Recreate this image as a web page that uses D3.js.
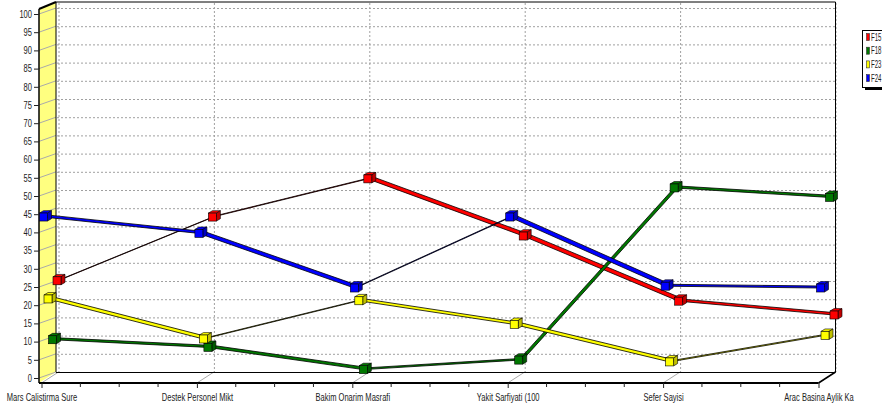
<!DOCTYPE html>
<html>
<head>
<meta charset="utf-8">
<script src="https://cdn.jsdelivr.net/npm/d3@7"></script>
<style>
  html, body { margin: 0; padding: 0; background: #fff; overflow: hidden; }
  svg { display: block; }
  text { font-family: "Liberation Sans", Arial, sans-serif; font-size: 10.5px; fill: #222; }
</style>
</head>
<body>
<svg id="chart" width="882" height="405"></svg>
<script>
// ---- data ----
const categories = ["Mars Calistirma Sure", "Destek Personel Mikt", "Bakim Onarim Masrafi",
                    "Yakit Sarfiyati (100", "Sefer Sayisi", "Arac Basina Aylik Ka"];
const seriesNames = ["F15", "F18", "F23", "F24"];
const f15 = [25, 42.5, 53, 37.3, 19.4, 15.6];
const f18 = [9.3, 7.2, 1.1, 3.7, 51, 48.4];
const f23 = [21, 10, 20.5, 14, 3.7, 11];
const f24 = [44, 39.5, 24.5, 44, 25, 24.5];
const yTickValues = d3.range(0, 101, 5);

// ---- styling / 3D layout ----
const seriesColors = ["#ff0000", "#007800", "#ffff00", "#0000ff"];
const seriesDepth = [15.5, 11, 6.5, 2];      // z offset (px) of each series ribbon
const seriesValues = [f15, f18, f23, f24];
const DX = 17, DY = -6;                      // wall depth offset
const RIB = [5.5, -1.9];                     // ribbon depth vector
const CUBE = [4, -2.4];                      // marker cube depth vector
const SLOPE = -0.4;                          // vertical shift per px of depth
const TXT_SCALE = 0.72;

const svg = d3.select("#chart");
const x = d3.scalePoint().domain(categories).range([41.5, 818.5]);
const y = d3.scaleLinear().domain([0, 100]).range([378, 14]);

const leftX = 39, floorFront = 383, floorBack = 372;
const backRight = x(categories[categories.length - 1]) + DX;

// left wall (yellow side panel)
svg.append("polygon")
  .attr("points", [[leftX, 9], [leftX + DX, 2], [leftX + DX, floorBack], [leftX, floorFront]].join(" "))
  .attr("fill", "#ffff80").attr("stroke", "none");

// back-wall grid (dashed)
const grid = svg.append("g").attr("stroke", "#a0a0a0").attr("stroke-dasharray", "2,2").attr("stroke-width", 1);
yTickValues.filter(v => v > 0).forEach(v => {
  grid.append("line").attr("x1", leftX + DX + 1).attr("x2", backRight)
    .attr("y1", y(v) + DY + 0.5).attr("y2", y(v) + DY + 0.5);
});
categories.forEach(c => {
  grid.append("line").attr("x1", x(c) + DX + 0.5).attr("x2", x(c) + DX + 0.5)
    .attr("y1", 3).attr("y2", floorBack);
});

// depth lines on the wall and the floor
const depthLines = svg.append("g").attr("stroke", "#aaa").attr("stroke-width", 1);
yTickValues.forEach(v => {
  depthLines.append("line").attr("x1", leftX).attr("y1", y(v))
    .attr("x2", leftX + DX).attr("y2", y(v) + DY);
});
categories.forEach(c => {
  depthLines.append("line").attr("x1", x(c)).attr("y1", floorFront)
    .attr("x2", x(c) + DX).attr("y2", floorBack);
});

// frame of the 3D box
const frame = svg.append("g").attr("stroke", "#000").attr("fill", "none");
frame.append("line").attr("x1", leftX + DX).attr("y1", 2).attr("x2", backRight).attr("y2", 2);
frame.append("line").attr("x1", backRight).attr("y1", 2).attr("x2", backRight).attr("y2", floorBack);
frame.append("line").attr("x1", leftX + DX).attr("y1", floorBack + 0.5).attr("x2", backRight).attr("y2", floorBack + 0.5);
frame.append("line").attr("x1", leftX + DX).attr("y1", 2).attr("x2", leftX + DX).attr("y2", floorBack);
frame.append("line").attr("x1", leftX).attr("y1", 9).attr("x2", leftX + DX).attr("y2", 2).attr("stroke-width", 2);
frame.append("line").attr("x1", leftX).attr("y1", 9).attr("x2", leftX).attr("y2", floorFront).attr("stroke-width", 1.5);
frame.append("line").attr("x1", leftX).attr("y1", floorFront).attr("x2", x(categories[5])).attr("y2", floorFront).attr("stroke-width", 2);
frame.append("line").attr("x1", x(categories[5])).attr("y1", floorFront).attr("x2", backRight).attr("y2", floorBack).attr("stroke-width", 1.5);

// left axis
const yAxis = svg.append("g").attr("transform", `translate(${leftX},0)`)
  .call(d3.axisLeft(y).tickValues(yTickValues).tickSize(5).tickPadding(2));
yAxis.select(".domain").remove();
yAxis.selectAll(".tick line").attr("stroke", "#222");
yAxis.selectAll(".tick text")
  .attr("x", -7 / TXT_SCALE).attr("transform", `scale(${TXT_SCALE},1)`)
  .attr("font-family", null).attr("font-size", null).attr("fill", "#222");

// bottom axis: major ticks with labels, minor ticks in quarters
const xAxis = svg.append("g").attr("transform", `translate(0,${floorFront})`)
  .call(d3.axisBottom(x).tickSize(5).tickPadding(6));
xAxis.select(".domain").remove();
xAxis.selectAll(".tick line").attr("stroke", "#222");
xAxis.selectAll(".tick text")
  .attr("transform", `scale(${TXT_SCALE},1)`)
  .attr("font-family", null).attr("font-size", null).attr("fill", "#222");
const step = x.step();
const minor = [];
categories.slice(0, -1).forEach(c => { for (let k = 1; k < 4; k++) minor.push(x(c) + k * step / 4); });
svg.append("g").selectAll("line").data(minor).join("line")
  .attr("x1", d => d).attr("x2", d => d).attr("y1", floorFront).attr("y2", floorFront + 4)
  .attr("stroke", "#222");

// series: 3D ribbons with cube markers, drawn back to front
const pt = (s, i) => [x(categories[i]) + seriesDepth[s], y(seriesValues[s][i]) + SLOPE * seriesDepth[s]];
const poly = pts => pts.map(p => p.join(",")).join(" ");
const plot = svg.append("g");
seriesValues.forEach((vals, s) => {
  const g = plot.append("g");
  const col = seriesColors[s];
  for (let i = 0; i < vals.length - 1; i++) {
    const p1 = pt(s, i), p2 = pt(s, i + 1);
    g.append("polygon")
      .attr("points", poly([p1, p2, [p2[0] + RIB[0], p2[1] + RIB[1]], [p1[0] + RIB[0], p1[1] + RIB[1]]]))
      .attr("fill", col).attr("stroke", "#000").attr("stroke-width", 0.8).attr("stroke-linejoin", "round");
  }
  const dark = d3.color(col).darker(0.8).formatHex();
  vals.forEach((v, i) => {
    const [cx, cy] = pt(s, i), h = 4;
    const [rx, ry] = CUBE;
    g.append("polygon")
      .attr("points", poly([[cx - h, cy - h], [cx + h, cy - h], [cx + h + rx, cy - h + ry], [cx - h + rx, cy - h + ry]]))
      .attr("fill", col).attr("stroke", "#000").attr("stroke-width", 0.6);
    g.append("polygon")
      .attr("points", poly([[cx + h, cy - h], [cx + h + rx, cy - h + ry], [cx + h + rx, cy + h + ry], [cx + h, cy + h]]))
      .attr("fill", dark).attr("stroke", "#000").attr("stroke-width", 0.6);
    g.append("rect").attr("x", cx - h).attr("y", cy - h).attr("width", 2 * h).attr("height", 2 * h)
      .attr("fill", col).attr("stroke", "#000").attr("stroke-width", 0.6);
  });
});

// legend
const lg = svg.append("g");
lg.append("rect").attr("x", 865).attr("y", 33).attr("width", 40).attr("height", 57).attr("fill", "#000");
lg.append("rect").attr("x", 862.5).attr("y", 30.5).attr("width", 40).attr("height", 57)
  .attr("fill", "#fff").attr("stroke", "#000").attr("stroke-width", 1);
seriesNames.forEach((name, s) => {
  const cy = 37 + s * 13.7;
  lg.append("rect").attr("x", 866.5).attr("y", cy - 3.5).attr("width", 3).attr("height", 7)
    .attr("fill", seriesColors[s]).attr("stroke", "#333").attr("stroke-width", 0.6);
  lg.append("text").attr("transform", `translate(871,${cy + 3.5}) scale(0.58,1)`).text(name);
});
</script>
</body>
</html>
